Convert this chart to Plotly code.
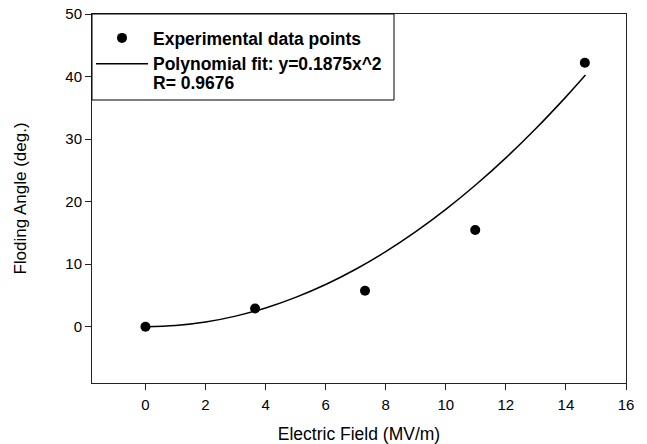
import plotly.graph_objects as go

# Experimental data
field = [0.0, 3.65, 7.31, 10.98, 14.63]
angle = [0.0, 2.9, 5.75, 15.45, 42.2]

# Polynomial fit curve values
fit_x = [0, 1, 2, 3, 4, 5, 6, 7, 8, 9, 10, 11, 12, 13, 14, 14.65]
fit_y = [0, 0.19, 0.75, 1.69, 3.0, 4.69, 6.75, 9.19, 12.0, 15.19, 18.75,
         22.69, 27.0, 31.69, 36.75, 40.24]

x_ticks = [0, 2, 4, 6, 8, 10, 12, 14, 16]
y_ticks = [0, 10, 20, 30, 40, 50]

FONT = "Arial, 'Liberation Sans', sans-serif"

# figure is placed by the page at an 8px offset, so size/margins compensate
W, H = 639, 436
ML, MR, MT, MB = 84, 21, 6, 61
PW = W - ML - MR
PH = H - MT - MB

fig = go.Figure()
fig.add_trace(go.Scatter(
    x=field, y=angle, mode="markers",
    name="<b>Experimental data points</b>",
    marker=dict(color="black", size=10),
))
fig.add_trace(go.Scatter(
    x=fit_x, y=fit_y, mode="lines",
    name="<b>Polynomial fit: y=0.1875x^2</b>",
    line=dict(color="black", width=1.5, shape="spline"),
))

# legend frame
fig.add_shape(
    type="rect", xref="paper", yref="paper", layer="above",
    x0=0, x1=302 / PW, y0=1 - 86 / PH, y1=1,
    line=dict(color="black", width=1), fillcolor="white",
)
# correlation line of the legend
fig.add_annotation(
    xref="paper", yref="paper", x=60 / PW, y=1 - 69 / PH,
    xanchor="left", yanchor="middle", showarrow=False, borderpad=0,
    text="<b>R= 0.9676</b>", font=dict(size=17.5, family=FONT, color="black"),
)

fig.update_layout(
    width=W, height=H,
    margin=dict(l=ML, r=MR, t=MT, b=MB),
    paper_bgcolor="white", plot_bgcolor="white",
    font=dict(family=FONT, color="black"),
    showlegend=True,
    legend=dict(
        x=-1 / PW, y=1 - 6 / PH, xanchor="left", yanchor="top",
        bgcolor="rgba(0,0,0,0)", borderwidth=0,
        font=dict(size=17.5, family=FONT, color="black"),
        itemwidth=52, tracegroupgap=0,
    ),
    xaxis=dict(
        range=[-1.78, 16], tickvals=x_ticks, ticks="outside", ticklen=6,
        tickcolor="#222", showline=True, linecolor="#222", linewidth=1,
        mirror=True, showgrid=False, zeroline=False, automargin=False,
        tickfont=dict(size=15), ticklabeloverflow="allow", ticklabelstandoff=2,
        title=dict(text="Electric Field (MV/m)", font=dict(size=17.5), standoff=24),
    ),
    yaxis=dict(
        range=[-9, 50], tickvals=y_ticks, ticks="outside", ticklen=6,
        tickcolor="#222", showline=True, linecolor="#222", linewidth=1,
        mirror=True, showgrid=False, zeroline=False, automargin=False,
        tickfont=dict(size=15), ticklabeloverflow="allow",
        title=dict(text="Floding Angle (deg.)", font=dict(size=17), standoff=34),
    ),
)

fig.write_html("out.html")
